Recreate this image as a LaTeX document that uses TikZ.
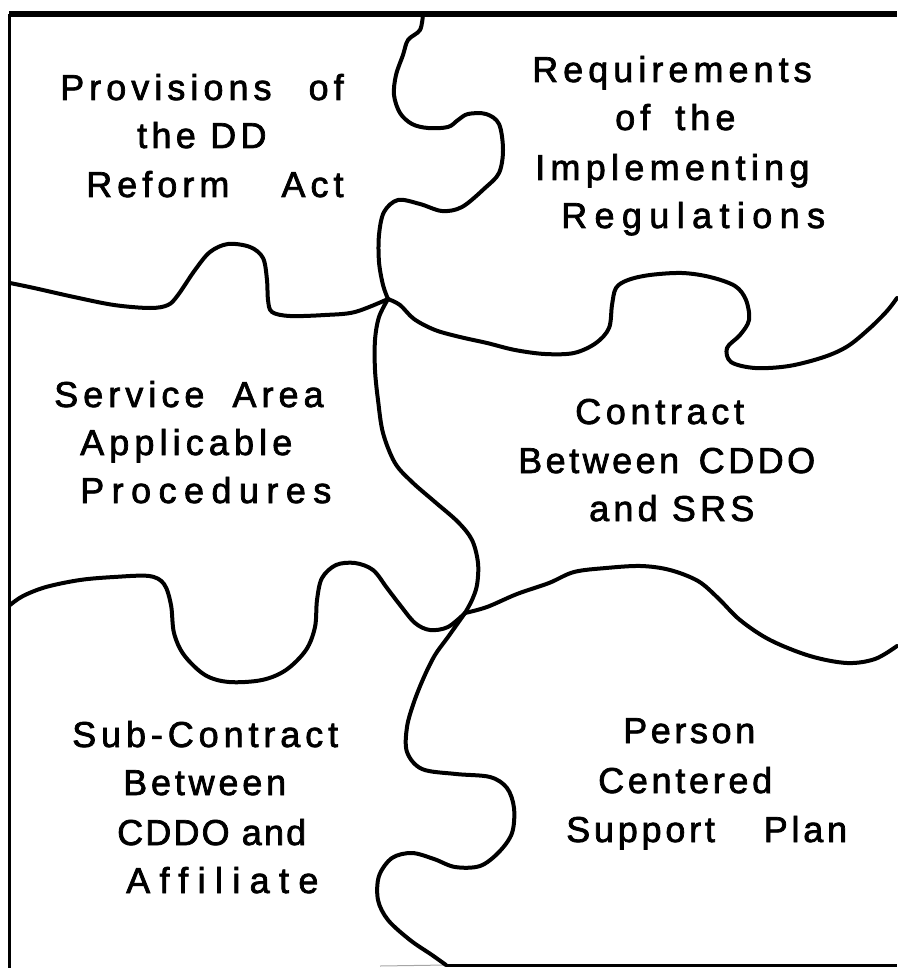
\documentclass[tikz,border=0pt]{standalone}
\usepackage{fontspec}
\setmainfont[FakeBold=2]{Liberation Sans}
\begin{document}
\begin{tikzpicture}[x=1pt,y=-1pt,
  edge/.style={line width=4pt, line join=round, line cap=round},
  border/.style={line width=3pt},
  lbl/.style={anchor=base west, inner sep=0pt},
  ls/.style={font=\fontsize{36}{42}\selectfont\addfontfeature{LetterSpace=#1}}]
\useasboundingbox (0,0) rectangle (897,968);

% frame corners and junctions of the puzzle pieces
\coordinate (tl) at (9,14);
\coordinate (tr) at (897,14);
\coordinate (bl) at (9,968);
\coordinate (bm) at (446,965);
\coordinate (br) at (897,965);
\coordinate (bg) at (380,966);
\coordinate (j1) at (388,299);
\coordinate (j2) at (465,613);

% outer frame
\draw[line width=5.5pt] (tl) -- (tr);
\draw[border] (tl) -- (bl);
\draw[border] (bm) -- (br);
\draw[line width=1pt, black!35] (bg) -- (bm);

% top seam: top edge down to j1
\draw[edge] plot[smooth, tension=0.55] coordinates {(423,14) (420,30) (408,40) (403,55) (396,75) (394,95) (400,113) (412,124) (428,128) (448,127) (458,120) (468,114) (486,114) (499,124) (503,150) (499,173) (485,188) (462,207) (442,211) (420,204) (398,200) (384,212) (379,235) (379,262) (383,285) (j1)};

% left seam: left edge to j1
\draw[edge] plot[smooth, tension=0.55] coordinates {(10,283) (34,288) (74,297) (114,305) (150,308) (168,305) (178,295) (195,270) (210,252) (228,244) (250,247) (263,258) (267,280) (268,300) (272,312) (290,316) (325,315) (355,312) (j1)};

% right seam: j1 to right edge
\draw[edge] plot[smooth, tension=0.55] coordinates {(j1) (400,305) (414,319) (435,330) (460,337) (487,343) (515,350) (545,354) (574,353) (596,343) (609,328) (612,305) (616,288) (628,280) (650,275) (682,273) (710,277) (735,286) (746,300) (749,320) (740,335) (727,348) (731,362) (755,368) (789,366) (824,357) (848,346) (870,328) (887,311) (897,298)};

% middle seam: j1 to j2
\draw[edge] plot[smooth, tension=0.55] coordinates {(j1) (379,317) (375,340) (375,370) (378,400) (383,433) (395,463) (412,482) (435,502) (458,522) (472,540) (478,563) (477,585) (472,600) (j2)};

% lower left seam: left edge to j2
\draw[edge] plot[smooth, tension=0.55] coordinates {(10,605) (23,596) (46,587) (80,580) (114,577) (149,576) (164,584) (171,605) (174,633) (184,655) (205,675) (229,682) (262,680) (286,670) (306,650) (315,627) (317,600) (322,578) (336,565) (355,563) (373,570) (387,588) (400,605) (415,623) (430,630) (448,627) (j2)};

% lower right seam: j2 to right edge
\draw[edge] plot[smooth, tension=0.55] coordinates {(j2) (487,607) (517,594) (549,583) (574,572) (606,568) (641,566) (670,570) (698,581) (718,598) (740,620) (770,640) (810,656) (847,663) (875,659) (897,646)};

% bottom seam: j2 down to the bottom edge
\draw[edge] plot[smooth, tension=0.55] coordinates {(j2) (448,637) (435,655) (424,677) (414,702) (407,727) (407,752) (422,769) (456,774) (490,777) (507,788) (514,808) (512,833) (499,852) (480,866) (455,867) (434,859) (412,853) (392,858) (379,876) (378,900) (388,920) (410,940) (432,955) (bm)};

% labels
\node[lbl, ls=14] (pa) at (60,100) {Provisions\hspace{22pt} of};
\node[lbl, ls=12] (pb) at (137,148) {the DD};
\node[lbl, ls=14] (pc) at (86,197) {Reform\hspace{37pt} Act};

\node[lbl, ls=14] (ra) at (532,82) {Requirements};
\node[lbl, ls=14] (rb) at (615,130) {of\hspace{10pt} the};
\node[lbl, ls=14.7] (rc) at (535,180) {Implementing};
\node[lbl, ls=20.5] (rd) at (561,228) {Regulations};

\node[lbl, ls=14] (sa) at (54,407) {Service\hspace{13pt} Area};
\node[lbl, ls=14.2] (sb) at (80,455) {Applicable};
\node[lbl, ls=20.7] (sc) at (80,503) {Procedures};

\node[lbl, ls=13] (ca) at (575,424) {Contract};
\node[lbl, ls=9.7] (cb) at (518,473) {Between\hspace{6pt} CDDO};
\node[lbl, ls=11.7] (cc) at (589,521) {and SRS};

\node[lbl, ls=13.6] (ua) at (72,747) {Sub-Contract};
\node[lbl, ls=10.6] (ub) at (123,795) {Between};
\node[lbl, ls=6] (uc) at (117,845) {CDDO and};
\node[lbl, ls=26] (ud) at (126,893) {Affiliate};

\node[lbl, ls=10] (na) at (623,743) {Person};
\node[lbl, ls=10.3] (nb) at (598,793) {Centered};
\node[lbl, ls=10.5] (nc) at (566,842) {Support\hspace{35pt} Plan};
\end{tikzpicture}
\end{document}
